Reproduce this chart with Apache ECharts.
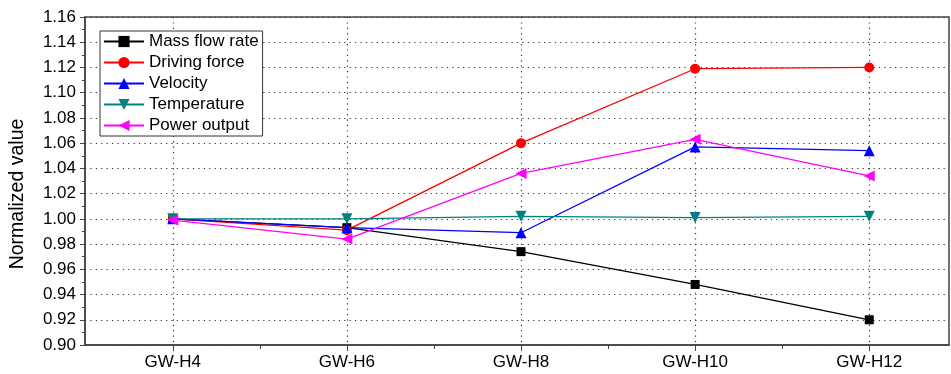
<!DOCTYPE html>
<html>
<head>
<meta charset="utf-8">
<script src="https://cdn.jsdelivr.net/npm/echarts@6/dist/echarts.min.js"></script>
<style>
html,body{margin:0;padding:0;background:#fff;}
#chart{width:951px;height:374px;}
</style>
</head>
<body>
<div id="chart"></div>
<script>
var categories = ['GW-H4', 'GW-H6', 'GW-H8', 'GW-H10', 'GW-H12'];
var massFlowRate = [1.000, 0.993, 0.974, 0.948, 0.920];
var drivingForce = [1.000, 0.991, 1.060, 1.119, 1.120];
var velocity = [1.000, 0.993, 0.989, 1.057, 1.054];
var temperature = [1.000, 1.000, 1.002, 1.001, 1.002];
var powerOutput = [0.999, 0.984, 1.036, 1.063, 1.034];

function pts(arr) { return arr.map(function (v, i) { return [i, v]; }); }
var idx = categories.map(function (c, i) { return i; });
var halfIdx = idx.slice(0, -1).map(function (i) { return i + 0.5; });
var FONT = '"Liberation Sans", Arial, sans-serif';
var AX = '#444';
var DOT = { type: [1.2, 4.2], color: '#333', width: 1.2 };

var chart = echarts.init(document.getElementById('chart'));
function mk(name, data, color, symbol, size, rot) {
  return {
    name: name, type: 'line', data: pts(data),
    symbol: symbol, symbolSize: size, symbolRotate: rot || 0,
    lineStyle: { color: color, width: 1.3 },
    itemStyle: { color: color },
    animation: false
  };
}
chart.setOption({
  animation: false,
  grid: { left: 83, top: 17, right: 2, bottom: 29, show: true, borderColor: AX, borderWidth: 1.5, backgroundColor: 'transparent' },
  legend: {
    orient: 'vertical', left: 100, top: 31,
    backgroundColor: '#fff', borderColor: '#333', borderWidth: 1,
    padding: [2, 4, 2, 3], itemWidth: 40, itemHeight: 14, itemGap: 4,
    textStyle: { fontFamily: FONT, fontSize: 17, color: '#000' },
    data: ['Mass flow rate', 'Driving force', 'Velocity', 'Temperature', 'Power output']
  },
  xAxis: [{
    type: 'value', min: -0.504, max: 4.458,
    axisLine: { show: true, onZero: false, lineStyle: { color: AX, width: 1.5 } },
    axisTick: { show: true, inside: false, length: 6, customValues: idx, lineStyle: { color: AX } },
    axisLabel: { customValues: idx, margin: 9, fontFamily: FONT, fontSize: 17, color: '#000',
      formatter: function (v) { return categories[Math.round(v)]; } },
    splitLine: { show: true, lineStyle: DOT }
  }, {
    type: 'value', min: -0.504, max: 4.458, position: 'bottom',
    axisLine: { show: false, onZero: false },
    axisTick: { show: true, inside: false, length: 4, customValues: halfIdx, lineStyle: { color: AX } },
    axisLabel: { show: false },
    splitLine: { show: false }
  }],
  yAxis: {
    type: 'value', min: 0.90, max: 1.16, interval: 0.02,
    name: 'Normalized value', nameLocation: 'middle', nameGap: 57,
    nameTextStyle: { fontFamily: FONT, fontSize: 19.5, color: '#000', padding: [0, 0, 0, -26] },
    axisLine: { show: true, onZero: false, lineStyle: { color: AX, width: 1.5 } },
    axisTick: { show: true, inside: false, length: 5, lineStyle: { color: AX } },
    minorTick: { show: true, splitNumber: 2, length: 3, lineStyle: { color: AX } },
    axisLabel: { margin: 9, fontFamily: FONT, fontSize: 17, color: '#000',
      formatter: function (v) { return v.toFixed(2); } },
    splitLine: { show: true, lineStyle: DOT }
  },
  series: [
    mk('Mass flow rate', massFlowRate, '#000000', 'rect', 9),
    mk('Driving force', drivingForce, '#ff0000', 'circle', 10),
    mk('Velocity', velocity, '#0000ff', 'triangle', 11),
    mk('Temperature', temperature, '#008080', 'triangle', 11, 180),
    mk('Power output', powerOutput, '#ff00ff', 'triangle', 11, 90)
  ]
});
</script>
</body>
</html>
